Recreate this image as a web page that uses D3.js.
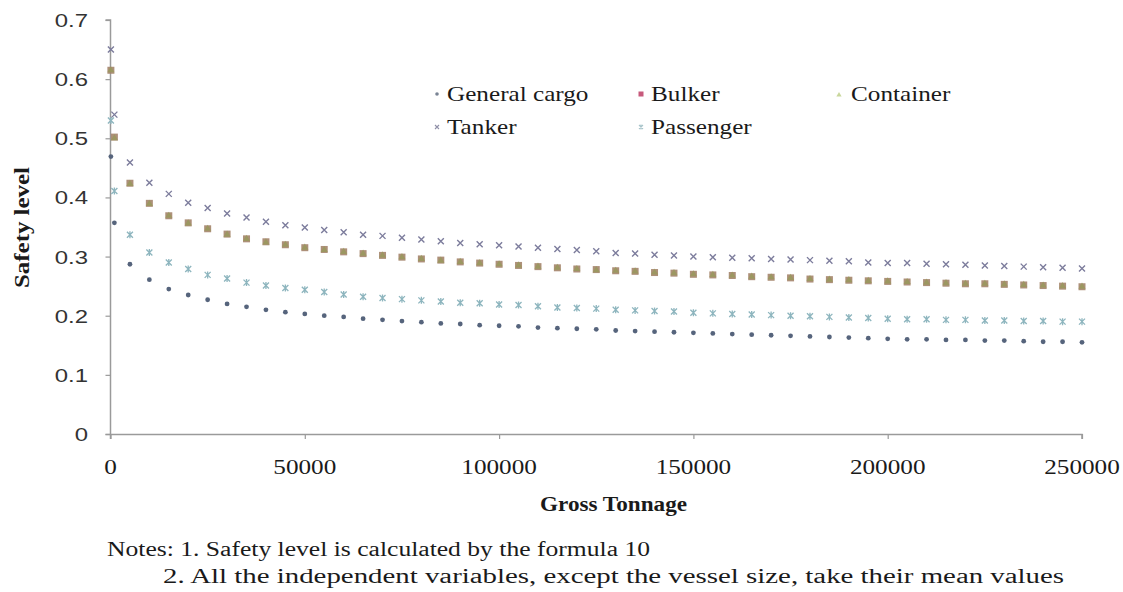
<!DOCTYPE html>
<html><head><meta charset="utf-8">
<script src="https://cdn.jsdelivr.net/npm/d3@7"></script>
<style>body{margin:0;background:#fff}svg{display:block}</style>
</head><body>
<svg id="c" width="1123" height="592"></svg>
<script>
const grossTonnage = [100,1000,5000,10000,15000,20000,25000,30000,35000,40000,45000,50000,55000,60000,
  65000,70000,75000,80000,85000,90000,95000,100000,105000,110000,115000,120000,125000,
  130000,135000,140000,145000,150000,155000,160000,165000,170000,175000,180000,185000,190000,
  195000,200000,205000,210000,215000,220000,225000,230000,235000,240000,245000,250000];
const generalCargo = [0.469,0.357, 0.287,0.261,0.245,0.235,0.227,0.220,0.215,0.210,0.206,0.203,0.200,0.198,
  0.195,0.193,0.191,0.189,0.187,0.186,0.184,0.183,0.182,0.180,0.179,0.178,0.177,
  0.175,0.174,0.173,0.172,0.171,0.170,0.169,0.168,0.167,0.166,0.165,0.164,0.163,
  0.162,0.161,0.160,0.160,0.159,0.159,0.158,0.158,0.157,0.156,0.156,0.155];
const bulker = [0.615,0.502, 0.424,0.390,0.369,0.357,0.347,0.338,0.330,0.325,0.320,0.315,0.312,0.308,
  0.305,0.302,0.299,0.296,0.294,0.291,0.289,0.287,0.285,0.283,0.281,0.279,0.278,
  0.276,0.275,0.273,0.272,0.270,0.269,0.268,0.266,0.265,0.264,0.262,0.261,0.260,
  0.259,0.258,0.257,0.256,0.255,0.254,0.254,0.253,0.252,0.251,0.250,0.249];
const container = [0.615,0.500, 0.423,0.389,0.369,0.356,0.347,0.337,0.330,0.324,0.320,0.315,0.311,0.308,
  0.305,0.302,0.299,0.296,0.293,0.291,0.289,0.287,0.285,0.283,0.281,0.279,0.277,
  0.276,0.275,0.273,0.272,0.270,0.269,0.268,0.266,0.265,0.264,0.262,0.261,0.260,
  0.259,0.258,0.257,0.256,0.255,0.254,0.254,0.253,0.252,0.251,0.250,0.249];
const tanker = [0.650,0.540, 0.459,0.425,0.406,0.391,0.382,0.373,0.366,0.359,0.353,0.349,0.345,0.341,
  0.337,0.335,0.332,0.329,0.326,0.323,0.321,0.319,0.317,0.315,0.313,0.311,0.309,
  0.306,0.305,0.303,0.302,0.300,0.299,0.298,0.297,0.296,0.295,0.294,0.293,0.292,
  0.290,0.289,0.289,0.288,0.287,0.286,0.285,0.284,0.283,0.282,0.281,0.280];
const passenger = [0.530,0.411, 0.337,0.307,0.290,0.279,0.269,0.263,0.256,0.251,0.247,0.244,0.240,0.236,
  0.232,0.230,0.228,0.226,0.224,0.222,0.221,0.219,0.218,0.216,0.214,0.213,0.212,
  0.210,0.209,0.208,0.207,0.205,0.204,0.203,0.202,0.201,0.200,0.199,0.198,0.197,
  0.196,0.195,0.194,0.194,0.193,0.193,0.192,0.192,0.191,0.191,0.190,0.190];
const seriesNames = ["General cargo","Bulker","Container","Tanker","Passenger"];
const yTickValues = [0,0.1,0.2,0.3,0.4,0.5,0.6,0.7];
const yTickLabels = ["0","0.1","0.2","0.3","0.4","0.5","0.6","0.7"];
const xTickValues = [0,50000,100000,150000,200000,250000];
const xTickLabels = ["0","50000","100000","150000","200000","250000"];
const xTitle = "Gross Tonnage";
const yTitle = "Safety level";
const notes = ["Notes: 1. Safety level is calculated by the formula 10",
               "2. All the independent variables, except the vessel size, take their mean values"];

const SX = 1.26;
const svg = d3.select("#c");
const x = d3.scaleLinear().domain([0,250000]).range([110.5,1082]);
const y = d3.scaleLinear().domain([0,0.7]).range([434,20]);
const axisColor = "#9a9a9a";
const serif = "'Liberation Serif','Times New Roman',serif";
const sans = "'Liberation Sans',Arial,sans-serif";

function stext(str, tx, ty, o) {
  o = o || {};
  const t = svg.append("text")
    .attr("text-anchor", o.anchor || "start")
    .attr("font-family", o.family || serif)
    .attr("font-size", o.size || 20)
    .attr("font-weight", o.weight || "normal")
    .attr("fill", o.fill || "#1a1a1a")
    .text(str);
  if (o.len) {
    t.attr("transform", `translate(${tx},${ty})${o.rot ? " rotate(" + o.rot + ")" : ""}`)
     .attr("textLength", o.len).attr("lengthAdjust", "spacingAndGlyphs");
  } else {
    t.attr("transform", `translate(${tx},${ty})${o.rot ? " rotate(" + o.rot + ")" : ""} scale(${SX},1)`);
  }
  return t;
}

// axes
const yAxis = d3.axisLeft(y).tickValues(yTickValues).tickSize(5).tickFormat("");
const gy = svg.append("g").attr("transform", `translate(${x(0)},0)`).call(yAxis);
const xAxis = d3.axisBottom(x).tickValues(xTickValues).tickSize(5).tickFormat("");
const gx = svg.append("g").attr("transform", `translate(0,${y(0)})`).call(xAxis);
[gx, gy].forEach(g => {
  g.select(".domain").attr("stroke", axisColor).attr("stroke-width", 1.5);
  g.selectAll(".tick line").attr("stroke", axisColor).attr("stroke-width", 1.2);
});
gx.select(".domain").attr("d", `M${x(0) - 5},0.5H${x(250000)}V5`);
gy.select(".domain").attr("d", `M-5,${y(0.7)}H0V${y(0) + 5}`);

yTickValues.forEach((v, i) => stext(yTickLabels[i], 88, y(v) + 7, {anchor: "end", family: sans, size: 19, fill: "#333"}));
xTickValues.forEach((v, i) => stext(xTickLabels[i], x(v), 474, {anchor: "middle", size: 20, fill: "#1a1a1a"}));

stext(xTitle, 540, 511, {weight: "bold", size: 20, len: 147});
stext(yTitle, 29, 288, {weight: "bold", size: 20, rot: -90, len: 121});
stext(notes[0], 107, 556, {size: 20, len: 543});
stext(notes[1], 163, 583, {size: 20, len: 901});

// markers
const xPath = s => `M${-s},${-s}L${s},${s}M${-s},${s}L${s},${-s}`;
const starPath = s => `M${-s},${-s}L${s},${s}M${-s},${s}L${s},${-s}M0,${-s - 0.5}L0,${s + 0.5}`;
const pts = vals => grossTonnage.map((g, i) => ({g, v: vals[i]}));

const plot = svg.append("g");
plot.selectAll(".gc").data(pts(generalCargo)).join("circle")
  .attr("cx", d => x(d.g)).attr("cy", d => y(d.v)).attr("r", 2.4).attr("fill", "#56647c");
plot.selectAll(".bk").data(pts(bulker)).join("rect")
  .attr("x", d => x(d.g) - 3.5).attr("y", d => y(d.v) - 3.5).attr("width", 7).attr("height", 7)
  .attr("fill", "#a4846a").attr("opacity", 0.9);
plot.selectAll(".ct").data(pts(container)).join("path")
  .attr("transform", d => `translate(${x(d.g)},${y(d.v)})`)
  .attr("d", d3.symbol().type(d3.symbolTriangle).size(22)())
  .attr("fill", "#979a5a").attr("opacity", 0.75);
plot.selectAll(".tk").data(pts(tanker)).join("path")
  .attr("transform", d => `translate(${x(d.g)},${y(d.v)})`)
  .attr("d", xPath(3)).attr("stroke", "#7c7c9c").attr("stroke-width", 1.4).attr("fill", "none");
plot.selectAll(".ps").data(pts(passenger)).join("path")
  .attr("transform", d => `translate(${x(d.g)},${y(d.v)})`)
  .attr("d", starPath(3)).attr("stroke", "#8db5be").attr("stroke-width", 1.3).attr("fill", "none");

// legend
const leg = [
  {name: seriesNames[0], mx: 437, my: 94, tx: 447, ty: 101},
  {name: seriesNames[1], mx: 641, my: 94, tx: 651, ty: 101},
  {name: seriesNames[2], mx: 839, my: 95, tx: 851, ty: 101},
  {name: seriesNames[3], mx: 437, my: 127, tx: 447, ty: 134},
  {name: seriesNames[4], mx: 641, my: 127, tx: 651, ty: 134}
];
const lg = svg.append("g");
lg.append("circle").attr("cx", leg[0].mx).attr("cy", leg[0].my).attr("r", 1.8).attr("fill", "#7a8494");
lg.append("rect").attr("x", leg[1].mx - 2.5).attr("y", leg[1].my - 2.5).attr("width", 5).attr("height", 5).attr("fill", "#c75a7c");
lg.append("path").attr("transform", `translate(${leg[2].mx},${leg[2].my})`)
  .attr("d", d3.symbol().type(d3.symbolTriangle).size(12)()).attr("fill", "#c9d79c");
lg.append("path").attr("transform", `translate(${leg[3].mx},${leg[3].my})`)
  .attr("d", xPath(2)).attr("stroke", "#9090a8").attr("stroke-width", 1.1).attr("fill", "none");
lg.append("path").attr("transform", `translate(${leg[4].mx},${leg[4].my})`)
  .attr("d", starPath(2)).attr("stroke", "#a8c4ca").attr("stroke-width", 1.1).attr("fill", "none");
leg.forEach(l => stext(l.name, l.tx, l.ty, {size: 20}));
</script>
</body></html>
